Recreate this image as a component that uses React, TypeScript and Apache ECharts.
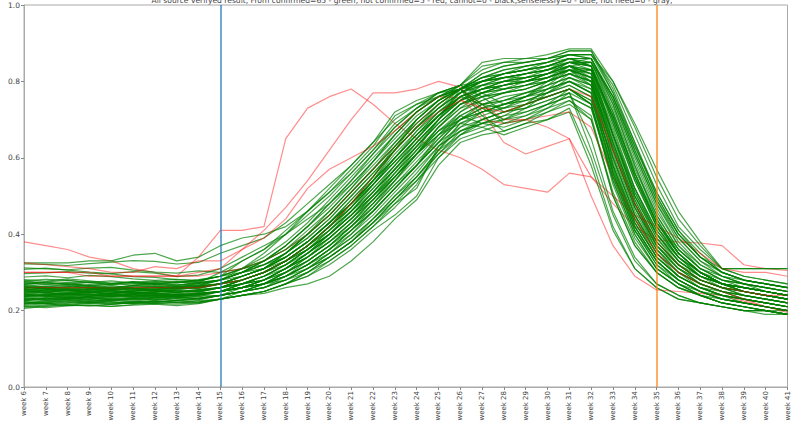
import React, { useEffect, useRef } from "react";
import * as echarts from "echarts";

const titleText =
  "All source verifyed result, From confirmed=65 - green, not confirmed=5 - red, cannot=0 - black,senselessly=0 - blue, not need=0 - gray,";

const weeks = [
  "week 6", "week 7", "week 8", "week 9", "week 10", "week 11", "week 12", "week 13", "week 14",
  "week 15", "week 16", "week 17", "week 18", "week 19", "week 20", "week 21", "week 22", "week 23",
  "week 24", "week 25", "week 26", "week 27", "week 28", "week 29", "week 30", "week 31", "week 32",
  "week 33", "week 34", "week 35", "week 36", "week 37", "week 38", "week 39", "week 40", "week 41",
];

const yTicks = [0, 0.2, 0.4, 0.6, 0.8, 1.0];
const markerWeeks = ["week 15", "week 35"];

// confirmed (green) lines
const greenLines = [
  [0.218,0.222,0.226,0.231,0.228,0.233,0.236,0.232,0.238,0.24,0.25,0.26,0.29,0.32,0.36,0.41,0.46,0.52,0.58,0.66,0.72,0.76,0.78,0.79,0.81,0.83,0.80,0.62,0.47,0.36,0.30,0.27,0.25,0.23,0.22,0.21],
  [0.252,0.248,0.243,0.251,0.255,0.246,0.249,0.254,0.262,0.27,0.29,0.31,0.34,0.38,0.43,0.48,0.54,0.60,0.66,0.71,0.75,0.78,0.80,0.82,0.83,0.85,0.86,0.74,0.58,0.44,0.35,0.30,0.27,0.25,0.24,0.23],
  [0.272,0.268,0.274,0.263,0.258,0.266,0.271,0.262,0.268,0.28,0.30,0.33,0.37,0.42,0.47,0.53,0.59,0.66,0.72,0.76,0.78,0.80,0.82,0.83,0.84,0.86,0.84,0.66,0.50,0.40,0.33,0.29,0.27,0.26,0.25,0.24],
  [0.212,0.214,0.219,0.222,0.217,0.221,0.224,0.220,0.223,0.23,0.24,0.25,0.27,0.30,0.34,0.38,0.44,0.50,0.55,0.62,0.68,0.72,0.74,0.76,0.78,0.80,0.77,0.56,0.42,0.33,0.28,0.25,0.23,0.22,0.21,0.20],
  [0.238,0.243,0.246,0.241,0.237,0.244,0.248,0.252,0.249,0.26,0.28,0.30,0.33,0.37,0.41,0.46,0.51,0.57,0.63,0.69,0.74,0.76,0.77,0.79,0.80,0.82,0.83,0.70,0.55,0.42,0.34,0.29,0.27,0.25,0.24,0.23],
  [0.262,0.257,0.261,0.266,0.254,0.259,0.262,0.257,0.263,0.27,0.28,0.30,0.32,0.35,0.39,0.44,0.49,0.55,0.61,0.68,0.73,0.77,0.79,0.80,0.82,0.84,0.82,0.64,0.48,0.37,0.31,0.28,0.26,0.25,0.24,0.23],
  [0.228,0.232,0.235,0.229,0.234,0.238,0.242,0.239,0.244,0.25,0.26,0.27,0.30,0.33,0.37,0.42,0.48,0.54,0.61,0.67,0.71,0.74,0.75,0.77,0.79,0.81,0.78,0.58,0.44,0.35,0.29,0.26,0.24,0.23,0.22,0.21],
  [0.281,0.277,0.283,0.278,0.272,0.276,0.268,0.274,0.281,0.29,0.31,0.34,0.38,0.43,0.49,0.55,0.61,0.67,0.72,0.76,0.78,0.82,0.84,0.85,0.86,0.88,0.88,0.78,0.64,0.50,0.40,0.34,0.30,0.28,0.27,0.26],
  [0.216,0.221,0.229,0.224,0.227,0.231,0.228,0.234,0.232,0.24,0.25,0.27,0.29,0.32,0.35,0.39,0.44,0.49,0.54,0.60,0.66,0.70,0.72,0.73,0.75,0.77,0.62,0.45,0.33,0.27,0.24,0.22,0.21,0.20,0.20,0.19],
  [0.247,0.253,0.256,0.249,0.244,0.251,0.255,0.248,0.253,0.26,0.27,0.29,0.32,0.36,0.40,0.45,0.51,0.57,0.63,0.70,0.75,0.79,0.81,0.81,0.83,0.85,0.85,0.72,0.56,0.43,0.35,0.30,0.27,0.26,0.25,0.24],
  [0.322,0.321,0.318,0.323,0.327,0.331,0.329,0.322,0.326,0.35,0.37,0.39,0.43,0.48,0.53,0.58,0.64,0.70,0.74,0.77,0.79,0.83,0.85,0.86,0.86,0.87,0.86,0.76,0.62,0.49,0.40,0.34,0.31,0.31,0.31,0.31],
  [0.325,0.325,0.325,0.33,0.33,0.345,0.35,0.33,0.34,0.37,0.39,0.40,0.42,0.46,0.51,0.56,0.62,0.68,0.73,0.76,0.78,0.80,0.82,0.84,0.85,0.87,0.87,0.79,0.66,0.53,0.42,0.36,0.31,0.31,0.31,0.31],
  [0.308,0.311,0.306,0.301,0.297,0.302,0.298,0.289,0.293,0.31,0.34,0.37,0.40,0.44,0.48,0.53,0.59,0.65,0.71,0.75,0.78,0.81,0.82,0.83,0.85,0.86,0.84,0.70,0.55,0.43,0.36,0.31,0.29,0.28,0.27,0.26],
  [0.297,0.299,0.302,0.298,0.296,0.289,0.287,0.281,0.279,0.29,0.33,0.36,0.40,0.45,0.50,0.56,0.62,0.69,0.73,0.77,0.79,0.80,0.81,0.82,0.84,0.85,0.83,0.66,0.51,0.40,0.34,0.30,0.28,0.27,0.26,0.25],
  [0.312,0.309,0.307,0.311,0.313,0.306,0.301,0.298,0.304,0.30,0.31,0.32,0.34,0.38,0.43,0.48,0.54,0.61,0.67,0.72,0.76,0.78,0.80,0.81,0.82,0.84,0.81,0.62,0.47,0.37,0.32,0.29,0.27,0.26,0.25,0.24],
  [0.288,0.291,0.286,0.292,0.289,0.283,0.279,0.282,0.277,0.29,0.30,0.31,0.33,0.36,0.40,0.45,0.51,0.57,0.63,0.69,0.74,0.77,0.78,0.80,0.81,0.83,0.82,0.66,0.50,0.39,0.33,0.29,0.27,0.26,0.25,0.24],
  [0.268,0.274,0.271,0.265,0.269,0.276,0.272,0.267,0.274,0.28,0.30,0.33,0.37,0.42,0.48,0.54,0.60,0.66,0.72,0.76,0.79,0.85,0.86,0.86,0.87,0.885,0.885,0.80,0.69,0.57,0.46,0.38,0.31,0.29,0.28,0.27],
  [0.258,0.262,0.266,0.259,0.256,0.263,0.267,0.261,0.271,0.28,0.30,0.32,0.35,0.40,0.45,0.51,0.57,0.64,0.70,0.75,0.78,0.82,0.84,0.85,0.86,0.88,0.88,0.77,0.63,0.51,0.41,0.35,0.30,0.28,0.27,0.26],
  [0.209,0.212,0.215,0.213,0.211,0.216,0.219,0.217,0.221,0.23,0.24,0.245,0.26,0.27,0.29,0.33,0.38,0.44,0.49,0.58,0.64,0.66,0.67,0.69,0.70,0.72,0.58,0.41,0.31,0.26,0.23,0.22,0.21,0.20,0.20,0.19],
  [0.223,0.218,0.221,0.226,0.222,0.219,0.224,0.227,0.222,0.23,0.24,0.25,0.27,0.29,0.32,0.36,0.41,0.45,0.50,0.60,0.65,0.67,0.69,0.70,0.72,0.74,0.70,0.51,0.38,0.30,0.26,0.24,0.22,0.21,0.20,0.20],
  [0.234,0.229,0.232,0.236,0.231,0.228,0.233,0.237,0.241,0.25,0.26,0.27,0.28,0.30,0.33,0.37,0.42,0.47,0.53,0.62,0.66,0.68,0.70,0.72,0.74,0.76,0.73,0.54,0.40,0.31,0.27,0.24,0.23,0.22,0.21,0.20],
  [0.243,0.239,0.244,0.248,0.242,0.238,0.245,0.242,0.246,0.25,0.26,0.27,0.29,0.31,0.34,0.38,0.43,0.48,0.52,0.63,0.67,0.69,0.71,0.74,0.76,0.78,0.75,0.57,0.42,0.33,0.28,0.25,0.23,0.22,0.21,0.20],
  [0.256,0.252,0.248,0.253,0.258,0.251,0.255,0.261,0.264,0.28,0.31,0.35,0.40,0.46,0.52,0.58,0.64,0.72,0.75,0.77,0.78,0.80,0.81,0.82,0.83,0.84,0.80,0.60,0.45,0.36,0.31,0.28,0.26,0.25,0.24,0.23],
  [0.264,0.259,0.263,0.268,0.261,0.257,0.262,0.266,0.273,0.30,0.33,0.36,0.41,0.46,0.51,0.57,0.63,0.71,0.74,0.76,0.78,0.79,0.80,0.80,0.82,0.83,0.79,0.58,0.43,0.34,0.29,0.26,0.25,0.24,0.23,0.22],
  [0.237,0.241,0.244,0.239,0.236,0.242,0.246,0.241,0.243,0.25,0.27,0.29,0.31,0.34,0.38,0.43,0.49,0.56,0.62,0.67,0.70,0.73,0.74,0.75,0.77,0.79,0.76,0.56,0.41,0.32,0.28,0.25,0.24,0.23,0.22,0.21],
  [0.226,0.231,0.234,0.229,0.238,0.243,0.239,0.236,0.242,0.25,0.27,0.28,0.31,0.35,0.40,0.45,0.50,0.55,0.61,0.66,0.69,0.71,0.73,0.75,0.76,0.78,0.74,0.53,0.39,0.31,0.27,0.25,0.23,0.22,0.21,0.20],
  [0.253,0.249,0.258,0.262,0.257,0.254,0.261,0.258,0.263,0.27,0.29,0.31,0.34,0.38,0.43,0.49,0.55,0.62,0.68,0.73,0.77,0.79,0.80,0.81,0.82,0.84,0.82,0.68,0.52,0.40,0.33,0.29,0.27,0.25,0.24,0.23],
  [0.219,0.226,0.231,0.228,0.225,0.232,0.229,0.234,0.231,0.24,0.26,0.27,0.30,0.33,0.37,0.42,0.47,0.53,0.58,0.64,0.68,0.70,0.72,0.74,0.76,0.78,0.75,0.60,0.45,0.35,0.30,0.27,0.25,0.23,0.22,0.21],
  [0.266,0.261,0.257,0.252,0.248,0.254,0.251,0.256,0.259,0.27,0.28,0.30,0.33,0.37,0.42,0.47,0.53,0.59,0.65,0.71,0.75,0.77,0.79,0.80,0.81,0.83,0.81,0.65,0.50,0.39,0.32,0.28,0.26,0.25,0.24,0.23],
  [0.241,0.238,0.247,0.252,0.249,0.244,0.251,0.247,0.252,0.26,0.27,0.28,0.31,0.34,0.38,0.43,0.48,0.54,0.60,0.66,0.70,0.74,0.76,0.77,0.79,0.81,0.79,0.63,0.48,0.37,0.31,0.27,0.25,0.24,0.23,0.22],
  [0.276,0.271,0.268,0.274,0.278,0.272,0.269,0.275,0.271,0.28,0.29,0.31,0.34,0.38,0.43,0.48,0.54,0.60,0.66,0.72,0.76,0.78,0.79,0.81,0.82,0.85,0.84,0.71,0.57,0.45,0.36,0.31,0.28,0.27,0.26,0.25],
  [0.227,0.224,0.229,0.233,0.228,0.231,0.235,0.238,0.236,0.25,0.26,0.27,0.29,0.32,0.36,0.40,0.45,0.51,0.57,0.63,0.67,0.69,0.70,0.71,0.73,0.75,0.71,0.50,0.37,0.30,0.26,0.24,0.22,0.21,0.20,0.19],
  [0.248,0.254,0.251,0.246,0.252,0.257,0.253,0.249,0.255,0.26,0.28,0.30,0.33,0.37,0.41,0.46,0.52,0.58,0.64,0.70,0.75,0.77,0.79,0.80,0.81,0.84,0.83,0.69,0.54,0.42,0.34,0.30,0.27,0.26,0.25,0.24],
  [0.263,0.258,0.255,0.261,0.266,0.259,0.256,0.262,0.258,0.27,0.29,0.31,0.35,0.39,0.44,0.50,0.56,0.62,0.68,0.73,0.77,0.80,0.82,0.83,0.84,0.86,0.85,0.73,0.59,0.46,0.37,0.32,0.29,0.27,0.26,0.25],
  [0.214,0.218,0.223,0.219,0.216,0.221,0.225,0.222,0.226,0.23,0.25,0.26,0.28,0.31,0.35,0.39,0.44,0.50,0.56,0.63,0.69,0.72,0.74,0.76,0.77,0.80,0.78,0.61,0.46,0.36,0.30,0.26,0.24,0.22,0.21,0.20],
  [0.244,0.239,0.236,0.242,0.246,0.241,0.238,0.243,0.251,0.26,0.27,0.29,0.32,0.36,0.40,0.45,0.50,0.56,0.62,0.68,0.73,0.75,0.77,0.78,0.80,0.82,0.80,0.64,0.49,0.38,0.32,0.28,0.26,0.24,0.23,0.22],
  [0.251,0.256,0.253,0.248,0.246,0.252,0.258,0.263,0.259,0.27,0.28,0.30,0.33,0.36,0.40,0.45,0.51,0.58,0.65,0.71,0.76,0.78,0.79,0.80,0.82,0.84,0.83,0.71,0.56,0.43,0.35,0.30,0.27,0.26,0.25,0.24],
  [0.231,0.227,0.232,0.237,0.242,0.238,0.235,0.241,0.244,0.25,0.26,0.28,0.30,0.33,0.37,0.41,0.46,0.52,0.58,0.65,0.70,0.72,0.74,0.75,0.77,0.79,0.76,0.57,0.43,0.34,0.29,0.26,0.24,0.23,0.22,0.21],
  [0.259,0.264,0.268,0.262,0.257,0.265,0.271,0.268,0.266,0.28,0.30,0.32,0.35,0.40,0.45,0.51,0.57,0.63,0.69,0.74,0.78,0.81,0.83,0.84,0.85,0.87,0.87,0.77,0.64,0.51,0.41,0.34,0.30,0.28,0.27,0.26],
  [0.239,0.235,0.241,0.245,0.239,0.236,0.242,0.238,0.241,0.25,0.26,0.28,0.31,0.35,0.39,0.44,0.49,0.55,0.61,0.67,0.72,0.75,0.77,0.78,0.80,0.82,0.79,0.60,0.45,0.35,0.30,0.27,0.25,0.24,0.23,0.22],
  [0.271,0.275,0.279,0.273,0.268,0.271,0.276,0.272,0.279,0.29,0.31,0.33,0.36,0.41,0.46,0.52,0.58,0.64,0.70,0.75,0.78,0.80,0.81,0.82,0.83,0.85,0.84,0.72,0.58,0.45,0.36,0.31,0.28,0.27,0.26,0.25],
  [0.221,0.217,0.214,0.219,0.223,0.218,0.221,0.227,0.229,0.24,0.25,0.26,0.28,0.31,0.34,0.38,0.43,0.49,0.55,0.61,0.67,0.70,0.72,0.73,0.75,0.77,0.65,0.46,0.34,0.27,0.24,0.22,0.21,0.20,0.20,0.19],
  [0.245,0.249,0.253,0.257,0.251,0.246,0.249,0.253,0.248,0.26,0.28,0.30,0.33,0.37,0.42,0.48,0.54,0.60,0.66,0.71,0.76,0.78,0.80,0.81,0.82,0.85,0.85,0.74,0.60,0.47,0.37,0.31,0.28,0.26,0.25,0.24],
  [0.233,0.236,0.239,0.243,0.237,0.234,0.239,0.244,0.241,0.25,0.26,0.28,0.30,0.34,0.38,0.42,0.47,0.53,0.59,0.65,0.71,0.74,0.75,0.77,0.78,0.80,0.77,0.59,0.44,0.34,0.29,0.26,0.24,0.23,0.22,0.21],
  [0.268,0.263,0.259,0.255,0.261,0.266,0.262,0.258,0.264,0.27,0.29,0.31,0.34,0.38,0.43,0.48,0.53,0.59,0.65,0.71,0.76,0.79,0.81,0.82,0.83,0.86,0.86,0.75,0.61,0.48,0.38,0.32,0.29,0.27,0.26,0.25],
  [0.236,0.241,0.238,0.234,0.239,0.244,0.247,0.243,0.239,0.25,0.26,0.27,0.29,0.32,0.36,0.41,0.47,0.54,0.61,0.68,0.74,0.77,0.78,0.79,0.80,0.83,0.81,0.66,0.51,0.40,0.33,0.29,0.26,0.25,0.24,0.23],
  [0.206,0.211,0.214,0.212,0.217,0.221,0.218,0.222,0.219,0.23,0.24,0.25,0.27,0.29,0.33,0.37,0.42,0.48,0.54,0.61,0.66,0.69,0.71,0.72,0.74,0.76,0.73,0.55,0.41,0.32,0.27,0.24,0.22,0.21,0.20,0.19],
  [0.277,0.273,0.269,0.266,0.271,0.274,0.269,0.265,0.271,0.28,0.30,0.32,0.35,0.39,0.44,0.50,0.56,0.62,0.68,0.74,0.78,0.81,0.83,0.84,0.85,0.87,0.86,0.75,0.61,0.48,0.39,0.33,0.30,0.28,0.27,0.26],
  [0.257,0.251,0.246,0.249,0.254,0.258,0.252,0.247,0.254,0.26,0.27,0.29,0.32,0.36,0.41,0.46,0.52,0.58,0.64,0.70,0.75,0.78,0.79,0.80,0.82,0.84,0.82,0.67,0.52,0.41,0.34,0.29,0.27,0.25,0.24,0.23],
  [0.229,0.233,0.228,0.224,0.229,0.234,0.231,0.227,0.233,0.24,0.25,0.27,0.29,0.32,0.36,0.41,0.46,0.52,0.58,0.64,0.70,0.73,0.75,0.76,0.78,0.80,0.77,0.58,0.43,0.34,0.29,0.26,0.24,0.23,0.22,0.21],
  [0.242,0.237,0.233,0.238,0.243,0.239,0.236,0.241,0.245,0.25,0.27,0.29,0.32,0.36,0.41,0.47,0.54,0.62,0.70,0.75,0.78,0.73,0.70,0.73,0.77,0.81,0.79,0.62,0.47,0.37,0.31,0.27,0.25,0.24,0.23,0.22],
  [0.255,0.259,0.263,0.258,0.254,0.261,0.265,0.259,0.262,0.27,0.29,0.31,0.35,0.40,0.46,0.52,0.59,0.66,0.72,0.76,0.79,0.76,0.72,0.74,0.78,0.82,0.80,0.63,0.48,0.38,0.32,0.28,0.26,0.25,0.24,0.23],
  [0.218,0.221,0.225,0.222,0.219,0.224,0.221,0.226,0.231,0.24,0.25,0.27,0.29,0.33,0.37,0.42,0.48,0.55,0.62,0.70,0.78,0.71,0.67,0.69,0.72,0.75,0.70,0.50,0.37,0.30,0.26,0.24,0.22,0.21,0.20,0.19],
  [0.249,0.245,0.242,0.247,0.252,0.248,0.244,0.249,0.255,0.26,0.28,0.30,0.33,0.37,0.42,0.48,0.55,0.63,0.70,0.75,0.79,0.77,0.74,0.76,0.79,0.83,0.83,0.71,0.56,0.44,0.35,0.30,0.27,0.26,0.25,0.24],
  [0.232,0.228,0.231,0.235,0.232,0.229,0.234,0.238,0.243,0.25,0.26,0.28,0.31,0.35,0.40,0.46,0.53,0.60,0.67,0.73,0.78,0.74,0.69,0.71,0.74,0.78,0.74,0.55,0.41,0.33,0.28,0.25,0.23,0.22,0.21,0.20],
  [0.273,0.269,0.272,0.276,0.271,0.267,0.273,0.277,0.274,0.28,0.30,0.33,0.37,0.42,0.48,0.54,0.61,0.68,0.73,0.77,0.79,0.84,0.85,0.85,0.86,0.87,0.87,0.80,0.68,0.55,0.44,0.37,0.31,0.29,0.28,0.27],
  [0.238,0.242,0.245,0.241,0.246,0.249,0.244,0.239,0.246,0.25,0.27,0.28,0.31,0.35,0.39,0.44,0.50,0.57,0.64,0.70,0.76,0.74,0.73,0.76,0.80,0.84,0.85,0.76,0.62,0.49,0.39,0.33,0.29,0.27,0.25,0.24],
  [0.211,0.208,0.212,0.215,0.211,0.214,0.217,0.213,0.218,0.23,0.24,0.25,0.27,0.30,0.34,0.38,0.43,0.49,0.55,0.62,0.69,0.68,0.66,0.68,0.70,0.73,0.60,0.42,0.31,0.26,0.23,0.22,0.21,0.20,0.19,0.19],
  [0.251,0.247,0.252,0.256,0.252,0.248,0.253,0.257,0.261,0.27,0.28,0.30,0.33,0.37,0.42,0.47,0.53,0.59,0.65,0.71,0.77,0.79,0.78,0.79,0.81,0.83,0.81,0.66,0.52,0.41,0.34,0.30,0.27,0.25,0.24,0.23],
  [0.278,0.282,0.279,0.273,0.269,0.274,0.278,0.273,0.277,0.29,0.31,0.33,0.36,0.40,0.45,0.51,0.57,0.63,0.69,0.74,0.78,0.81,0.82,0.83,0.84,0.86,0.86,0.76,0.63,0.50,0.40,0.34,0.30,0.28,0.27,0.26],
  [0.228,0.232,0.236,0.233,0.229,0.225,0.231,0.235,0.232,0.24,0.25,0.27,0.30,0.34,0.38,0.43,0.49,0.55,0.61,0.66,0.71,0.69,0.68,0.70,0.73,0.77,0.74,0.56,0.42,0.33,0.28,0.25,0.23,0.22,0.21,0.20],
  [0.261,0.256,0.252,0.257,0.262,0.258,0.255,0.261,0.266,0.27,0.29,0.31,0.34,0.38,0.43,0.49,0.55,0.62,0.68,0.73,0.77,0.80,0.82,0.83,0.84,0.86,0.84,0.69,0.54,0.42,0.35,0.30,0.27,0.26,0.25,0.24],
  [0.243,0.247,0.241,0.237,0.242,0.246,0.241,0.238,0.244,0.25,0.26,0.28,0.31,0.34,0.39,0.44,0.50,0.56,0.63,0.69,0.74,0.76,0.77,0.78,0.80,0.82,0.80,0.64,0.49,0.38,0.32,0.28,0.26,0.24,0.23,0.22],
  [0.224,0.219,0.216,0.221,0.226,0.223,0.227,0.231,0.228,0.24,0.25,0.26,0.28,0.31,0.35,0.40,0.46,0.52,0.58,0.64,0.70,0.72,0.73,0.74,0.76,0.78,0.74,0.54,0.40,0.31,0.27,0.24,0.22,0.21,0.20,0.19],
  [0.254,0.258,0.254,0.249,0.245,0.251,0.256,0.252,0.249,0.26,0.28,0.30,0.33,0.37,0.42,0.47,0.53,0.60,0.66,0.72,0.77,0.80,0.81,0.82,0.83,0.85,0.84,0.70,0.55,0.43,0.35,0.30,0.27,0.26,0.25,0.24],
];

// not confirmed (red) lines
const redEarlyPeak = [0.38,0.37,0.36,0.34,0.33,0.31,0.30,0.29,0.34,0.41,0.41,0.42,0.65,0.73,0.76,0.78,0.74,0.69,0.65,0.62,0.60,0.57,0.53,0.52,0.51,0.56,0.55,0.48,0.42,0.385,0.38,0.377,0.37,0.32,0.31,0.305];
const redSteepRise = [0.30,0.30,0.30,0.30,0.29,0.29,0.29,0.29,0.30,0.31,0.36,0.41,0.47,0.54,0.62,0.70,0.77,0.77,0.78,0.80,0.785,0.72,0.64,0.61,0.63,0.65,0.50,0.37,0.29,0.254,0.25,0.245,0.24,0.225,0.21,0.195];
const redGentle = [0.325,0.32,0.315,0.31,0.30,0.30,0.315,0.31,0.33,0.33,0.36,0.39,0.44,0.52,0.57,0.60,0.63,0.67,0.72,0.76,0.757,0.70,0.69,0.70,0.68,0.65,0.55,0.50,0.45,0.42,0.39,0.35,0.31,0.30,0.30,0.29];
const redInBand1 = [0.30,0.30,0.30,0.29,0.29,0.29,0.29,0.29,0.29,0.30,0.31,0.33,0.36,0.40,0.45,0.51,0.57,0.63,0.69,0.74,0.78,0.74,0.70,0.70,0.71,0.72,0.68,0.55,0.44,0.35,0.30,0.27,0.25,0.23,0.21,0.20];
const redInBand2 = [0.26,0.26,0.26,0.26,0.26,0.26,0.26,0.26,0.26,0.27,0.28,0.30,0.33,0.37,0.42,0.48,0.55,0.62,0.68,0.72,0.75,0.73,0.72,0.74,0.76,0.78,0.76,0.62,0.48,0.38,0.32,0.28,0.26,0.25,0.24,0.24];
const redLines = [redEarlyPeak, redSteepRise, redGentle, redInBand1, redInBand2];

const GREEN = "rgba(0,128,0,0.7)";
const RED = "rgba(255,0,0,0.45)";

export default function App() {
  const ref = useRef<HTMLDivElement>(null);

  useEffect(() => {
    document.body.style.margin = "0";
    if (!ref.current) return;
    const chart = echarts.init(ref.current, undefined, { renderer: "svg" });

    const series: any[] = [];
    const redSlots = [8, 20, 33, 45, 58];
    let r = 0;
    greenLines.forEach((g, i) => {
      series.push({
        type: "line",
        data: g,
        symbol: "none",
        silent: true,
        lineStyle: { color: GREEN, width: 1.2 },
      });
      if (redSlots.includes(i) && r < redLines.length) {
        series.push({
          type: "line",
          data: redLines[r++],
          symbol: "none",
          silent: true,
          lineStyle: { color: RED, width: 1.2 },
        });
      }
    });
    series.push({
      type: "line",
      data: [],
      symbol: "none",
      silent: true,
      markLine: {
        silent: true,
        symbol: "none",
        label: { show: false },
        data: [
          { xAxis: markerWeeks[0], lineStyle: { color: "#1f77b4", width: 1.5, type: "solid", opacity: 0.85 } },
          { xAxis: markerWeeks[1], lineStyle: { color: "#ff7f0e", width: 1.5, type: "solid", opacity: 0.85 } },
        ],
      },
    });

    chart.setOption({
      animation: false,
      backgroundColor: "#ffffff",
      textStyle: { fontFamily: "DejaVu Sans" },
      title: {
        text: titleText,
        left: 407,
        textAlign: "center",
        top: -9,
        textStyle: { fontSize: 7.6, fontWeight: "normal", color: "#444", fontFamily: "DejaVu Sans" },
      },
      grid: {
        left: 24,
        right: 1,
        top: 5,
        bottom: 39,
        show: true,
        borderColor: "#aaa",
        borderWidth: 1,
        backgroundColor: "transparent",
      },
      xAxis: {
        type: "category",
        data: weeks,
        boundaryGap: false,
        axisLine: { lineStyle: { color: "#aaa", width: 1 } },
        axisTick: { show: true, length: 3, lineStyle: { color: "#888" }, interval: 0 },
        axisLabel: {
          rotate: 90,
          interval: 0,
          fontSize: 7,
          color: "#444",
          margin: 4,
          fontFamily: "DejaVu Sans",
        },
        splitLine: { show: false },
      },
      yAxis: {
        type: "value",
        min: yTicks[0],
        max: yTicks[yTicks.length - 1],
        interval: 0.2,
        axisLine: { show: true, lineStyle: { color: "#aaa", width: 1 } },
        axisTick: { show: true, length: 3, lineStyle: { color: "#888" } },
        axisLabel: {
          fontSize: 7.5,
          color: "#444",
          margin: 4,
          fontFamily: "DejaVu Sans",
          formatter: (v: number) => v.toFixed(1),
        },
        splitLine: { show: false },
      },
      series,
    });

    return () => chart.dispose();
  }, []);

  return <div ref={ref} style={{ width: 791, height: 426 }} />;
}
